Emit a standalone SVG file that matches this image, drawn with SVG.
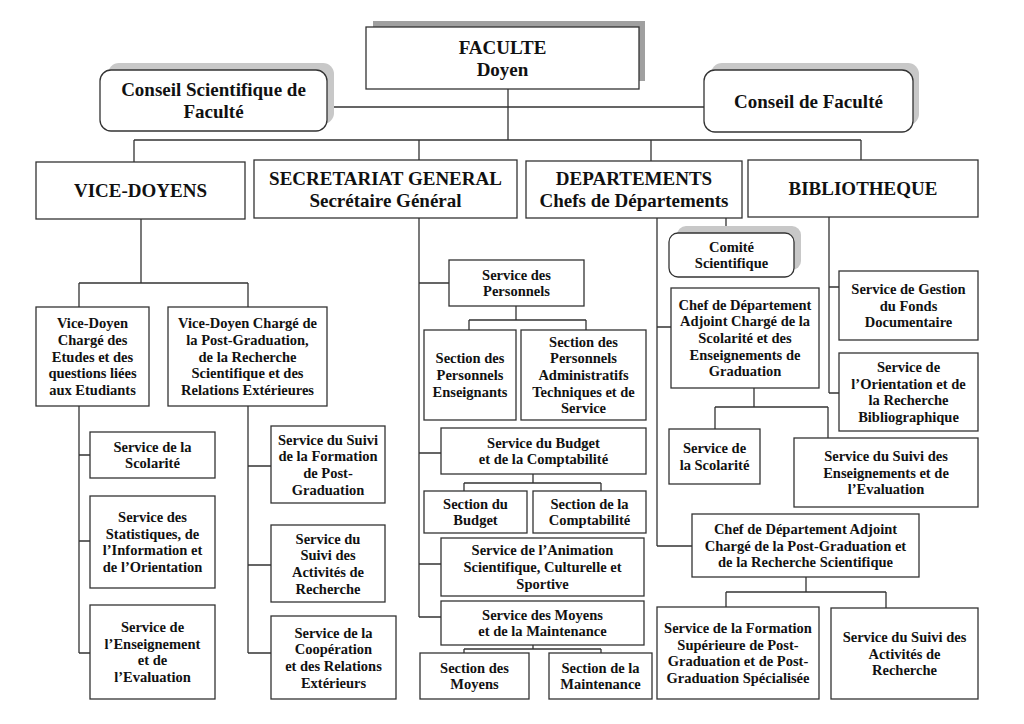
<svg xmlns="http://www.w3.org/2000/svg" width="1024" height="724" viewBox="0 0 1024 724">
<style>
.b{fill:#fff;stroke:#333;stroke-width:1.3}
.sh{fill:#a0a0a0}
.sl{fill:#c8c8c8}
.c{fill:none;stroke:#333;stroke-width:1.3}
text{font-family:"Liberation Serif","Times New Roman",serif;font-weight:bold;fill:#111;text-anchor:middle}
.L{font-size:19px}
.s{font-size:14.5px}
</style>
<rect width="1024" height="724" fill="#fff"/>
<g id="connectors" class="c">
<path d="M508 89V140M327 107H704M134 140H861M134 140V162M419 140V160M651 140V161M861 140V160"/>
<path d="M141 219V283M79 283H248M79 283V307M248 283V307"/>
<path d="M79 406V653M79 455H90M79 541H90M79 653H90"/>
<path d="M248 406V653M248 466H271M248 565H271M248 653H271"/>
<path d="M419 218V617M419 283H449M419 453H441M419 564H441M419 617H441"/>
<path d="M516 306V320M469 320H586M469 320V330M586 320V330"/>
<path d="M533 474V483M464 483H601M464 483V491M601 483V491"/>
<path d="M533 645V649M464 649H601M464 649V653M601 649V653"/>
<path d="M726 218V233M657 218V546M657 327H671M657 546H692"/>
<path d="M754 388V407M715 407H828M715 407V429M828 407V438"/>
<path d="M829 217V393M829 287H839M829 393H839"/>
<path d="M806 577V592M726 592H886M726 592V607M886 592V608"/>
</g>
<g id="faculte">
<rect class="sh" x="373" y="21" width="272" height="60"/>
<rect class="b" x="366" y="27" width="273" height="62"/>
<text class="L" x="502.5" y="53.5">FACULTE<tspan x="502.5" dy="22">Doyen</tspan></text>
</g>
<g id="conseil-scientifique">
<rect class="sl" x="108" y="63" width="226" height="61" rx="11"/>
<rect class="b" x="100" y="70" width="227" height="61" rx="11"/>
<text class="L" x="213.5" y="96">Conseil Scientifique de<tspan x="213.5" dy="22">Faculté</tspan></text>
</g>
<g id="conseil-faculte">
<rect class="sl" x="711" y="63" width="208" height="62" rx="11"/>
<rect class="b" x="704" y="70" width="209" height="62" rx="11"/>
<text class="L" x="808.5" y="107.5">Conseil de Faculté</text>
</g>
<g id="vice-doyens">
<rect class="b" x="36" y="162" width="209" height="57"/>
<text class="L" x="140.5" y="197">VICE-DOYENS</text>
</g>
<g id="secretariat">
<rect class="b" x="254" y="160" width="263" height="58"/>
<text class="L" x="385.5" y="184.5">SECRETARIAT GENERAL<tspan x="385.5" dy="22">Secrétaire Général</tspan></text>
</g>
<g id="departements">
<rect class="b" x="526" y="161" width="216" height="57"/>
<text class="L" x="634" y="185">DEPARTEMENTS<tspan x="634" dy="22">Chefs de Départements</tspan></text>
</g>
<g id="bibliotheque">
<rect class="b" x="748" y="160" width="230" height="57"/>
<text class="L" x="863" y="195">BIBLIOTHEQUE</text>
</g>
<g id="vd1">
<rect class="b" x="36" y="307" width="113" height="99"/>
<text class="s" x="92.5" y="328.1">Vice-Doyen<tspan x="92.5" dy="16.7">Chargé des</tspan><tspan x="92.5" dy="16.7">Etudes et des</tspan><tspan x="92.5" dy="16.7">questions liées</tspan><tspan x="92.5" dy="16.7">aux Etudiants</tspan></text>
</g>
<g id="vd2">
<rect class="b" x="168" y="307" width="159" height="99"/>
<text class="s" x="247.5" y="328.1">Vice-Doyen Chargé de<tspan x="247.5" dy="16.7">la Post-Graduation,</tspan><tspan x="247.5" dy="16.7">de la Recherche</tspan><tspan x="247.5" dy="16.7">Scientifique et des</tspan><tspan x="247.5" dy="16.7">Relations Extérieures</tspan></text>
</g>
<g id="vd-scolarite">
<rect class="b" x="90" y="432" width="125" height="46"/>
<text class="s" x="152.5" y="451.6">Service de la<tspan x="152.5" dy="16.7">Scolarité</tspan></text>
</g>
<g id="vd-statistiques">
<rect class="b" x="90" y="496" width="125" height="92"/>
<text class="s" x="152.5" y="522">Service des<tspan x="152.5" dy="16.7">Statistiques, de</tspan><tspan x="152.5" dy="16.7">l’Information et</tspan><tspan x="152.5" dy="16.7">de l’Orientation</tspan></text>
</g>
<g id="vd-enseignement">
<rect class="b" x="90" y="605" width="125" height="94"/>
<text class="s" x="152.5" y="632">Service de<tspan x="152.5" dy="16.7">l’Enseignement</tspan><tspan x="152.5" dy="16.7">et de</tspan><tspan x="152.5" dy="16.7">l’Evaluation</tspan></text>
</g>
<g id="vd-suivi-formation">
<rect class="b" x="271" y="426" width="114" height="77"/>
<text class="s" x="328" y="444.5">Service du Suivi<tspan x="328" dy="16.7">de la Formation</tspan><tspan x="328" dy="16.7">de Post-</tspan><tspan x="328" dy="16.7">Graduation</tspan></text>
</g>
<g id="vd-suivi-activites">
<rect class="b" x="271" y="525" width="114" height="77"/>
<text class="s" x="328" y="543.5">Service du<tspan x="328" dy="16.7">Suivi des</tspan><tspan x="328" dy="16.7">Activités de</tspan><tspan x="328" dy="16.7">Recherche</tspan></text>
</g>
<g id="vd-cooperation">
<rect class="b" x="271" y="616" width="125" height="83"/>
<text class="s" x="333.5" y="637.5">Service de la<tspan x="333.5" dy="16.7">Coopération</tspan><tspan x="333.5" dy="16.7">et des Relations</tspan><tspan x="333.5" dy="16.7">Extérieurs</tspan></text>
</g>
<g id="sg-personnels">
<rect class="b" x="449" y="260" width="135" height="46"/>
<text class="s" x="516.5" y="279.6">Service des<tspan x="516.5" dy="16.7">Personnels</tspan></text>
</g>
<g id="sg-sec-enseignants">
<rect class="b" x="424" y="330" width="92" height="90"/>
<text class="s" x="470" y="363.3">Section des<tspan x="470" dy="16.7">Personnels</tspan><tspan x="470" dy="16.7">Enseignants</tspan></text>
</g>
<g id="sg-sec-administratifs">
<rect class="b" x="521" y="330" width="125" height="90"/>
<text class="s" x="583.5" y="346.6">Section des<tspan x="583.5" dy="16.7">Personnels</tspan><tspan x="583.5" dy="16.7">Administratifs</tspan><tspan x="583.5" dy="16.7">Techniques et de</tspan><tspan x="583.5" dy="16.7">Service</tspan></text>
</g>
<g id="sg-budget">
<rect class="b" x="441" y="428" width="205" height="46"/>
<text class="s" x="543.5" y="447.6">Service du Budget<tspan x="543.5" dy="16.7">et de la Comptabilité</tspan></text>
</g>
<g id="sg-sec-budget">
<rect class="b" x="424" y="491" width="103" height="42"/>
<text class="s" x="475.5" y="508.6">Section du<tspan x="475.5" dy="16.7">Budget</tspan></text>
</g>
<g id="sg-sec-comptabilite">
<rect class="b" x="533" y="491" width="113" height="42"/>
<text class="s" x="589.5" y="508.6">Section de la<tspan x="589.5" dy="16.7">Comptabilité</tspan></text>
</g>
<g id="sg-animation">
<rect class="b" x="441" y="538" width="203" height="58"/>
<text class="s" x="542.5" y="555.3">Service de l’Animation<tspan x="542.5" dy="16.7">Scientifique, Culturelle et</tspan><tspan x="542.5" dy="16.7">Sportive</tspan></text>
</g>
<g id="sg-moyens">
<rect class="b" x="441" y="601" width="203" height="44"/>
<text class="s" x="542.5" y="619.6">Service des Moyens<tspan x="542.5" dy="16.7">et de la Maintenance</tspan></text>
</g>
<g id="sg-sec-moyens">
<rect class="b" x="420" y="653" width="109" height="46"/>
<text class="s" x="474.5" y="672.6">Section des<tspan x="474.5" dy="16.7">Moyens</tspan></text>
</g>
<g id="sg-sec-maintenance">
<rect class="b" x="549" y="653" width="103" height="46"/>
<text class="s" x="600.5" y="672.6">Section de la<tspan x="600.5" dy="16.7">Maintenance</tspan></text>
</g>
<g id="dep-comite">
<rect class="sl" x="677" y="226" width="124" height="44" rx="9"/>
<rect class="b" x="669" y="233" width="125" height="44" rx="9"/>
<text class="s" x="731.5" y="251.6">Comité<tspan x="731.5" dy="16.7">Scientifique</tspan></text>
</g>
<g id="dep-adjoint-scolarite">
<rect class="b" x="671" y="288" width="148" height="100"/>
<text class="s" x="745" y="309.6">Chef de Département<tspan x="745" dy="16.7">Adjoint Chargé de la</tspan><tspan x="745" dy="16.7">Scolarité et des</tspan><tspan x="745" dy="16.7">Enseignements de</tspan><tspan x="745" dy="16.7">Graduation</tspan></text>
</g>
<g id="dep-scolarite">
<rect class="b" x="669" y="429" width="91" height="55"/>
<text class="s" x="714.5" y="453">Service de<tspan x="714.5" dy="16.7">la Scolarité</tspan></text>
</g>
<g id="dep-suivi-enseignements">
<rect class="b" x="794" y="438" width="184" height="69"/>
<text class="s" x="886" y="460.8">Service du Suivi des<tspan x="886" dy="16.7">Enseignements et de</tspan><tspan x="886" dy="16.7">l’Evaluation</tspan></text>
</g>
<g id="bib-gestion">
<rect class="b" x="839" y="271" width="139" height="69"/>
<text class="s" x="908.5" y="293.8">Service de Gestion<tspan x="908.5" dy="16.7">du Fonds</tspan><tspan x="908.5" dy="16.7">Documentaire</tspan></text>
</g>
<g id="bib-orientation">
<rect class="b" x="839" y="353" width="139" height="78"/>
<text class="s" x="908.5" y="372">Service de<tspan x="908.5" dy="16.7">l’Orientation et de</tspan><tspan x="908.5" dy="16.7">la Recherche</tspan><tspan x="908.5" dy="16.7">Bibliographique</tspan></text>
</g>
<g id="dep-adjoint-pg">
<rect class="b" x="692" y="514" width="227" height="63"/>
<text class="s" x="805.5" y="533.8">Chef de Département Adjoint<tspan x="805.5" dy="16.7">Chargé de la Post-Graduation et</tspan><tspan x="805.5" dy="16.7">de la Recherche Scientifique</tspan></text>
</g>
<g id="dep-formation-sup">
<rect class="b" x="657" y="607" width="162" height="92"/>
<text class="s" x="738" y="633">Service de la Formation<tspan x="738" dy="16.7">Supérieure de Post-</tspan><tspan x="738" dy="16.7">Graduation et de Post-</tspan><tspan x="738" dy="16.7">Graduation Spécialisée</tspan></text>
</g>
<g id="dep-suivi-activites">
<rect class="b" x="831" y="608" width="147" height="91"/>
<text class="s" x="904.5" y="641.8">Service du Suivi des<tspan x="904.5" dy="16.7">Activités de</tspan><tspan x="904.5" dy="16.7">Recherche</tspan></text>
</g>
</svg>
